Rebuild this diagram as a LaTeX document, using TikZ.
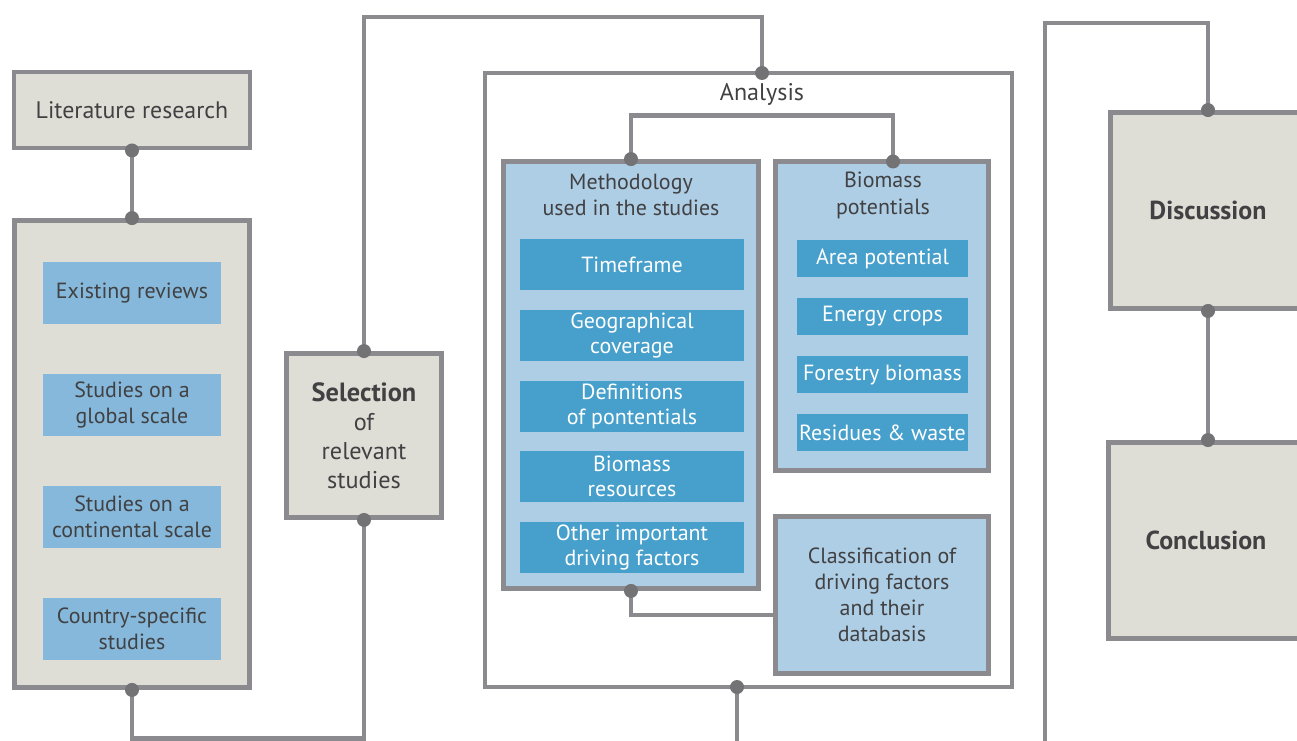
\documentclass[tikz,border=0pt]{standalone}
\usepackage{fontspec}
\setmainfont{PT Sans}
\usetikzlibrary{positioning}

\definecolor{linegray}{HTML}{8B8A8F}
\definecolor{dotgray}{HTML}{737376}
\definecolor{beige}{HTML}{DFDED6}
\definecolor{paleblue}{HTML}{AECEE5}
\definecolor{darkblue}{HTML}{479FCB}
\definecolor{midblue}{HTML}{85B8DA}
\definecolor{textgray}{HTML}{414143}

\tikzset{
 greybox/.style={draw=linegray, line width=2.8pt, fill=beige, text=textgray, align=center, inner sep=0pt},
 bluebox/.style={draw=linegray, line width=2.8pt, fill=paleblue, text=textgray, align=center, inner sep=0pt},
 methitem/.style={fill=darkblue, text=white, align=center, inner sep=0pt, minimum width=4.48cm, minimum height=1.02cm, font=\fontsize{12.5}{14.5}\selectfont},
 bioitem/.style={fill=darkblue, text=white, align=center, inner sep=0pt, minimum width=3.42cm, minimum height=0.74cm, font=\fontsize{12.5}{14.5}\selectfont},
 litem/.style={fill=midblue, text=textgray, align=center, inner sep=0pt, minimum width=3.56cm, minimum height=1.24cm, font=\fontsize{12.5}{14.7}\selectfont},
 conn/.style={draw=linegray, line width=2.8pt},
 label/.style={text=textgray, align=center, font=\fontsize{12.5}{15.3}\selectfont},
}
\newcommand{\joint}[1]{\fill[dotgray] (#1) circle (0.14cm);}

\begin{document}
\begin{tikzpicture}[x=0.02cm, y=-0.02cm]
 \useasboundingbox (0,0) rectangle (1297,740);

 % left column
 \node[greybox, minimum width=4.72cm, minimum height=1.52cm, font=\fontsize{13.6}{16}\selectfont] (lit) at (132,110) {Literature research};
 \node[greybox, minimum width=4.70cm, minimum height=9.34cm] (search) at (132,454) {};
 \node[litem] (reviews) at (132,293) {Existing reviews};
 \node[litem] (global) at (132,405) {Studies on a\\global scale};
 \node[litem] (continental) at (132,517) {Studies on a\\continental scale};
 \node[litem] (country) at (132,628.5) {Country-specific\\studies};

 % selection
 \node[greybox, minimum width=3.1cm, minimum height=3.28cm, font=\fontsize{13.8}{16.5}\selectfont] (sel) at (364,435.5) {{\bfseries\fontsize{15}{16.5}\selectfont Selection}\\of\\relevant\\studies};

 % analysis frame
 \node[draw=linegray, line width=2.3pt, minimum width=10.54cm, minimum height=12.28cm, inner sep=0pt] (analysis) at (748.5,380) {};
 \node[label, font=\fontsize{13.7}{16}\selectfont] (antitle) at (762,94) {Analysis};
 \coordinate (antop) at (762,73);
 \coordinate (anbot) at (737,687);

 \node[bluebox, minimum width=5.1cm, minimum height=8.54cm] (meth) at (631,375) {};
 \node[label] (methtitle) at (631,195) {Methodology\\used in the studies};
 \node[methitem] (time) at (632,264.5) {Timeframe};
 \node[methitem] (geo) at (632,335.5) {Geographical\\coverage};
 \node[methitem] (defs) at (632,406.5) {Definitions\\of pontentials};
 \node[methitem] (res) at (632,476.5) {Biomass\\resources};
 \node[methitem] (other) at (632,547.5) {Other important\\driving factors};

 \node[bluebox, minimum width=4.26cm, minimum height=6.18cm] (bio) at (882,316) {};
 \node[label] (biotitle) at (883,195) {Biomass\\potentials};
 \coordinate (biotop) at (893,161.5);
 \node[bioitem] (area) at (882.5,258.5) {Area potential};
 \node[bioitem] (crops) at (882.5,316.5) {Energy crops};
 \node[bioitem] (forest) at (882.5,374.5) {Forestry biomass};
 \node[bioitem] (waste) at (882.5,432.5) {Residues \& waste};

 \node[bluebox, minimum width=4.26cm, minimum height=3.14cm, font=\fontsize{12.5}{14.7}\selectfont] (class) at (882,595) {Classification of\\driving factors\\and their\\databasis};

 % right column
 \node[greybox, minimum width=3.9cm, minimum height=3.92cm, font=\bfseries\fontsize{14.8}{17}\selectfont] (disc) at (1208,210.5) {Discussion};
 \node[greybox, minimum width=3.9cm, minimum height=3.92cm, font=\bfseries\fontsize{14.8}{17}\selectfont] (concl) at (1206,540.5) {Conclusion};
 \coordinate (rtop) at (1045,23);
 \coordinate (rbot) at (1045,745);
 \coordinate (stop) at (364,17);

 % connectors
 \draw[conn] (lit.south) -- (search.north);
 \draw[conn] (search.south) -- ++(0,49) -| (sel.south);
 \draw[conn] (sel.north) -- (stop) -| (antop);
 \draw[conn] (meth.north) -- ++(0,-43.5) -| (biotop);
 \draw[conn] (meth.south) |- ([yshift=-0.4cm]class.west);
 \draw[conn] (anbot) -- ++(0,60);
 \draw[conn] (rbot) -- (rtop) -| (disc.north);
 \draw[conn] (disc.south) -- (disc.south |- concl.north);

 % joints
 \joint{lit.south} \joint{search.north} \joint{search.south}
 \joint{sel.south} \joint{sel.north} \joint{antop} \joint{anbot}
 \joint{meth.north} \joint{biotop} \joint{meth.south}
 \joint{disc.north} \joint{disc.south} \joint{disc.south |- concl.north}
\end{tikzpicture}
\end{document}
